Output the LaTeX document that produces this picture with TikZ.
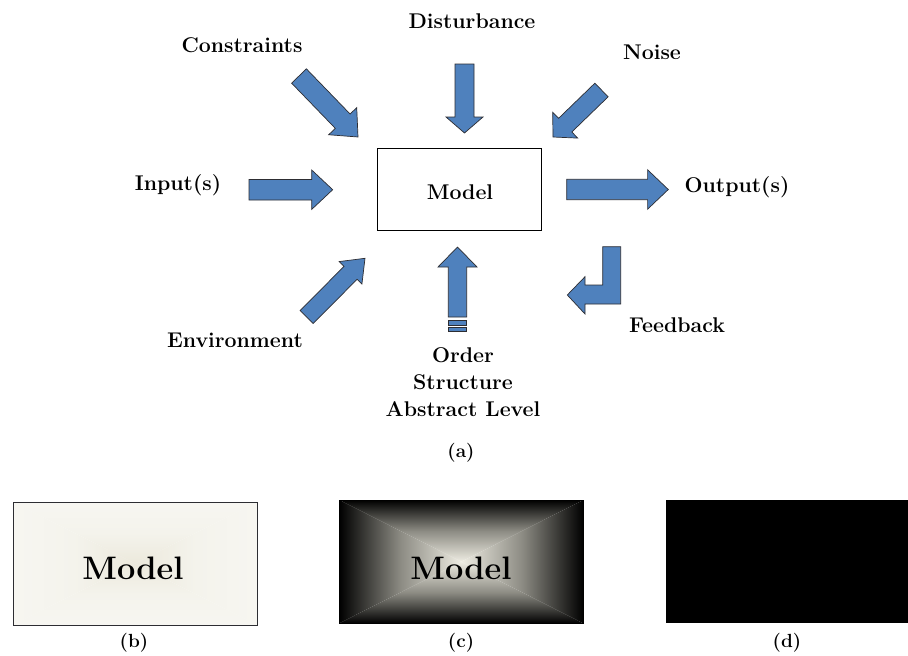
\documentclass[tikz,border=0pt]{standalone}
\usepackage{fontspec}
\usetikzlibrary{calc}
\definecolor{ablue}{RGB}{79,129,189}
\definecolor{aline}{RGB}{45,45,50}
\definecolor{bedge}{RGB}{247,246,241}
\definecolor{bmid}{RGB}{244,243,236}
\definecolor{bcen}{RGB}{236,233,220}
\definecolor{cmid}{RGB}{140,139,131}
\definecolor{ccen}{RGB}{238,236,226}
\tikzset{
  lbl/.style={font=\bfseries\fontsize{21.3}{25}\selectfont, inner sep=0pt},
  sublbl/.style={font=\bfseries\fontsize{19}{23}\selectfont, inner sep=0pt},
  biglbl/.style={font=\bfseries\fontsize{32.5}{38}\selectfont, inner sep=0pt},
  barrow/.style={fill=ablue, draw=aline, line width=0.7pt, line join=miter},
  mbox/.style={draw=black, line width=0.9pt, fill=white, minimum width=164pt, minimum height=82pt, inner sep=0pt},
}
% block arrow: name, tail, tip, half shaft width, half head width, head length
\newcommand\blockarrow[6]{%
  \coordinate (#1-t) at (#2);
  \coordinate (#1-p) at (#3);
  \coordinate (#1-h) at ($(#1-p)!#6!(#1-t)$);
  \draw[barrow] ($(#1-t)!#4!90:(#1-p)$) -- ($(#1-h)!#4!-90:(#1-t)$) --
    ($(#1-h)!#5!-90:(#1-t)$) -- (#1-p) -- ($(#1-h)!#5!90:(#1-t)$) --
    ($(#1-h)!#4!90:(#1-t)$) -- ($(#1-t)!#4!-90:(#1-p)$) -- cycle;
}
% rectangular gradient: name, nw corner, se corner, edge, mid, centre colour
\newcommand\rectgrad[6]{%
  \coordinate (#1-nw) at (#2);
  \coordinate (#1-se) at (#3);
  \coordinate (#1-ne) at (#1-se |- #1-nw);
  \coordinate (#1-sw) at (#1-nw |- #1-se);
  \coordinate (#1-c) at ($(#1-nw)!0.5!(#1-se)$);
  \shade[top color=#4, bottom color=#6, middle color=#5] (#1-nw) -- (#1-ne) -- (#1-c) -- cycle;
  \shade[top color=#6, bottom color=#4, middle color=#5] (#1-sw) -- (#1-se) -- (#1-c) -- cycle;
  \shade[left color=#4, right color=#6, middle color=#5] (#1-nw) -- (#1-sw) -- (#1-c) -- cycle;
  \shade[left color=#6, right color=#4, middle color=#5] (#1-ne) -- (#1-se) -- (#1-c) -- cycle;
}
\begin{document}
\begin{tikzpicture}[x=1pt, y=-1pt]
\useasboundingbox[fill=white] (0,0) rectangle (908,656);

% ---------- (a) ----------
\node[mbox] (model) at (459,189) {};
\node[lbl] (modeltxt) at (460,192) {Model};

\node[lbl] (constraints) at (242,45) {Constraints};
\node[lbl] (disturbance) at (472,21) {Disturbance};
\node[lbl] (noise) at (652,52) {Noise};
\node[lbl] (input) at (178,185) {Input(s)};
\node[lbl] (output) at (737,187) {Output(s)};
\node[lbl] (environment) at (235,340) {Environment};
\node[lbl] (feedback) at (677,325) {Feedback};
\node[lbl] (order) at (463,355) {Order};
\node[lbl] (structure) at (463,382) {Structure};
\node[lbl] (abstract) at (463,409) {Abstract Level};
\node[sublbl] (cap-a) at (461,453) {(a)};

\blockarrow{cons}{299,76}{358,137}{10.3pt}{19.5pt}{22pt}
\blockarrow{dist}{464.5,64}{464.5,133}{9.5pt}{18.5pt}{16pt}
\blockarrow{noi}{601.5,90}{553,137}{9.5pt}{18pt}{17pt}
\blockarrow{inp}{249,189.7}{332.7,189.7}{10.3pt}{19.7pt}{21pt}
\blockarrow{outp}{566.7,189.5}{668.3,189.5}{10.2pt}{19.7pt}{20.7pt}
\blockarrow{env}{306.7,317}{365,258.3}{9.2pt}{16pt}{20.5pt}
\blockarrow{ord}{457.5,317}{457.5,247}{9.2pt}{19.5pt}{20pt}
\draw[barrow] (448.3,320) rectangle (466.7,325);
\draw[barrow] (448.3,327.5) rectangle (466.7,331);

% feedback arrow
\draw[barrow] (602.7,246.7) -- (620.7,246.7) -- (620.7,304) -- (585,304) --
  (585,314) -- (567.3,295) -- (585,276.7) -- (585,285) -- (602.7,285) -- cycle;

% ---------- (b) ----------
\rectgrad{bb}{13,502}{257,625}{bedge}{bmid}{bcen}
\draw[draw=aline, line width=0.9pt] (bb-nw) rectangle (bb-se);
\node[biglbl] (modelb) at (133,568) {Model};
\node[sublbl] (cap-b) at (134,643) {(b)};

% ---------- (c) ----------
\rectgrad{cc}{339.3,500}{583.3,623.3}{black}{cmid}{ccen}
\draw[draw=black, line width=0.6pt] (cc-nw) rectangle (cc-se);
\node[biglbl] (modelc) at (461,568) {Model};
\node[sublbl] (cap-c) at (461,643) {(c)};

% ---------- (d) ----------
\fill[black] (666,499.5) rectangle (908,623.3);
\node[sublbl] (cap-d) at (787,643) {(d)};
\end{tikzpicture}
\end{document}
